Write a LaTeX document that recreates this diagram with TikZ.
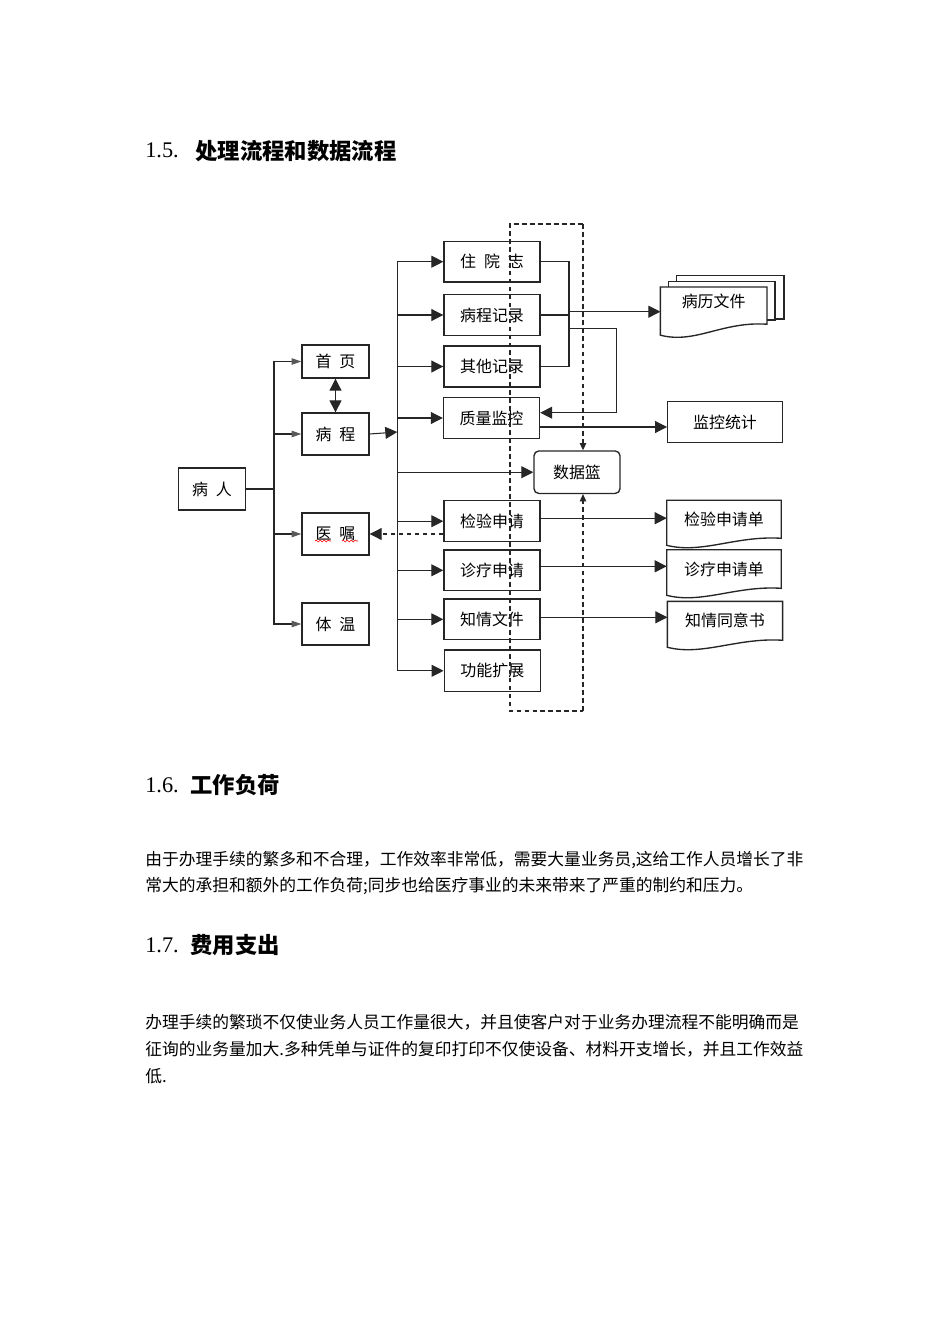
\documentclass[tikz,border=0pt]{standalone}
\usepackage{fontspec}
\setmainfont{Liberation Serif}
\newfontfamily\cjk{Noto Sans CJK SC}
\XeTeXlinebreaklocale "zh"
\XeTeXlinebreakskip=0pt plus 0.2em
\usetikzlibrary{arrows.meta,calc,decorations.pathmorphing}
\newcommand{\cgap}{\hspace{0.5em}}
% document shape with a wavy bottom
\newcommand{\docwave}[2]{\draw[docline] (#1.north west) -- (#1.north east) -- (#1.south east) .. controls ($(#1.south east)+(-45,-3)$) and ($(#1.south west)+(35,#2+9)$) .. ($(#1.south west)+(0,#2)$) -- cycle;}

\begin{document}
\begin{tikzpicture}[x=0.6266pt,y=0.6266pt,yscale=-1,xscale=1,
  cbox/.style={draw=black!85,line width=0.85pt,inner sep=0pt,font=\cjk\fontsize{10pt}{12pt}\selectfont},
  lbox/.style={cbox,minimum width=42pt,minimum height=26.3pt},
  rbox/.style={cbox,minimum width=60.2pt,minimum height=25.3pt},
  docbox/.style={inner sep=0pt,minimum width=71.4pt,minimum height=23.6pt,font=\cjk\fontsize{10pt}{12pt}\selectfont},
  docline/.style={draw=black!85,line width=0.85pt},
  link/.style={draw=black!85,line width=0.65pt},
  tip/.style={link,-{Triangle[length=7.5pt,width=7.5pt]}},
  graytip/.style={link,-{Triangle[length=6pt,width=4pt,color=black!65]}},
  smalltip/.style={-{Triangle[length=4.5pt,width=4pt]}},
  dashlink/.style={link,dash pattern=on 3pt off 2pt},
  heading/.style={anchor=west,inner sep=0pt,font=\fontsize{14pt}{16pt}\selectfont},
  cjkhead/.style={heading,font=\cjk\bfseries\fontsize{14pt}{16pt}\selectfont},
  bodyline/.style={anchor=west,inner sep=0pt,font=\cjk\fontsize{10.5pt}{12pt}\selectfont}]
\useasboundingbox (0,0) rectangle (950,1344);

% Text Node
\node[heading] (h15) at (145,150.7) {1.5.};
\node[cjkhead] (h15t) at (195,150.7) {处理流程和数据流程};

%Shape: left column
\node[lbox] (bingren) at (212,489) {病\cgap 人};
\node[lbox,minimum height=20.7pt] (shouye) at (335.5,361.5) {首\cgap 页};
\node[lbox] (bingcheng) at (335.5,434) {病\cgap 程};
\node[lbox] (yizhu) at (335.5,534) {医\cgap 嘱};
\node[lbox] (tiwen) at (335.5,624) {体\cgap 温};

%Shape: middle column
\node[rbox] (zhuyuan) at (492,261.7) {住\cgap 院\cgap 志};
\node[rbox] (bclog) at (492,315) {病程记录};
\node[rbox,minimum height=25.7pt] (qita) at (492,366.5) {其他记录};
\node[rbox] (zhiliang) at (491.5,418) {质量监控};
\node[cbox,rounded corners=3pt,minimum width=53.9pt,minimum height=26.6pt] (shujulan) at (577,472.2) {数据篮};
\node[rbox,minimum height=25.7pt] (jianyan) at (492,521.2) {检验申请};
\node[rbox] (zhenliao) at (492,570.3) {诊疗申请};
\node[rbox] (zhiqing) at (492,619.3) {知情文件};
\node[rbox,minimum height=26.1pt] (gongneng) at (492.3,670.8) {功能扩展};

%Shape: right column
\node[cbox,minimum width=71.8pt,minimum height=25.7pt] (jiankong) at (725,422.2) {监控统计};
\draw[docline] (676.7,281.7) -- (676.7,275.7) -- (784,275.7) -- (784,319) -- (775,319);
\draw[docline] (668.3,287.3) -- (668.3,281.7) -- (775,281.7) -- (775,320) -- (766.7,320);
\node[docbox,minimum width=66.4pt,minimum height=22.9pt,text depth=6pt] (blwj) at (713.7,305.6) {病历文件};
\docwave{blwj}{11}
\node[docbox,minimum height=23.4pt] (jydan) at (724,519.3) {检验申请单};
\docwave{jydan}{7}
\node[docbox,minimum height=23.8pt] (zldan) at (724,569) {诊疗申请单};
\docwave{zldan}{7}
\node[docbox,minimum width=71.8pt,minimum height=24pt] (zqs) at (725,620.8) {知情同意书};
\docwave{zqs}{7}

% bus points
\coordinate (busL) at (274,489);
\coordinate (busR) at (397.3,432);
\coordinate (hub) at (569,318);
\coordinate (hubA) at (569,311.7);
\coordinate (hubB) at (569,328.3);
\coordinate (loopR) at (616.7,412.7);
\coordinate (fTL) at (510,224);
\coordinate (fTR) at (583,224);
\coordinate (fBL) at (510,711);
\coordinate (fBR) at (583,711);

%Straight Lines: patient to left column
\draw[link] (bingren.east) -- (busL);
\draw[graytip] (busL) |- (shouye.west);
\draw[graytip] (busL) |- (bingcheng.west);
\draw[graytip] (busL) |- (yizhu.west);
\draw[graytip] (busL) |- (tiwen.west);
\draw[link,{Triangle[length=7.5pt,width=7.5pt]}-{Triangle[length=7.5pt,width=7.5pt]}] (shouye.south) -- (bingcheng.north);

%Straight Lines: right bus
\draw[tip] (bingcheng.east) -- (busR);
\draw[link] (busR |- zhuyuan.west) -- (busR |- gongneng.west);
\draw[tip] (busR |- zhuyuan.west) -- (zhuyuan.west);
\draw[tip] (busR |- bclog.west) -- (bclog.west);
\draw[tip] (busR |- qita.west) -- (qita.west);
\draw[tip] (busR |- zhiliang.west) -- (zhiliang.west);
\draw[tip] (busR |- shujulan.west) -- (shujulan.west);
\draw[tip] (busR |- jianyan.west) -- (jianyan.west);
\draw[tip] (busR |- zhenliao.west) -- (zhenliao.west);
\draw[tip] (busR |- zhiqing.west) -- (zhiqing.west);
\draw[tip] (busR |- gongneng.west) -- (gongneng.west);

%Straight Lines: records to files
\draw[link] (zhuyuan.east) -| (hub |- qita.east) -- (qita.east);
\draw[link] (bclog.east) -- (bclog.east -| hub);
\draw[tip] (hubA) -- (hubA -| blwj.west);
\draw[tip] (hubB) -| (loopR) -- (loopR -| zhiliang.east);
\draw[tip] ($(zhiliang.east)+(0,9)$) coordinate (zq) -- (zq -| jiankong.west);
\draw[tip] ($(jianyan.east)+(0,-3)$) coordinate (jy) -- (jy -| jydan.west);
\draw[tip] ($(zhenliao.east)+(0,-4)$) coordinate (zl) -- (zl -| zldan.west);
\draw[tip] ($(zhiqing.east)+(0,-2)$) coordinate (zx) -- (zx -| zqs.west);
\draw[dashlink,tip] (jianyan.west |- yizhu.east) -- (yizhu.east);

%Shape: data frame
\draw[dashlink] (fTR) -- (fTL) -- (fBL) -- (fBR);
\draw[dashlink,smalltip] (fTR) -- (fTR |- shujulan.north);
\draw[dashlink,smalltip] (fBR) -- (fBR |- shujulan.south);

% spell marks
\draw[red,line width=0.4pt,decorate,decoration={snake,amplitude=0.6pt,segment length=2.5pt}] (315,541) -- (331,541);
\draw[red,line width=0.4pt,decorate,decoration={snake,amplitude=0.6pt,segment length=2.5pt}] (342,541) -- (358,541);

% Text Node
\node[heading] (h16) at (145,785) {1.6.};
\node[cjkhead] (h16t) at (190,785) {工作负荷};
\node[bodyline] (p1a) at (145,860) {\makebox[412pt][s]{由于办理手续的繁多和不合理，工作效率非常低，需要大量业务员,这给工作人员增长了非}};
\node[bodyline] (p1b) at (145,886) {常大的承担和额外的工作负荷;同步也给医疗事业的未来带来了严重的制约和压力。};

% Text Node
\node[heading] (h17) at (145,945) {1.7.};
\node[cjkhead] (h17t) at (190,945) {费用支出};
\node[bodyline] (p2a) at (145,1022) {\makebox[414pt][s]{办理手续的繁琐不仅使业务人员工作量很大，并且使客户对于业务办理流程不能明确而是}};
\node[bodyline] (p2b) at (145,1049) {\makebox[414pt][s]{征询的业务量加大.多种凭单与证件的复印打印不仅使设备、材料开支增长，并且工作效益}};
\node[bodyline] (p2c) at (145,1076) {低.};
\end{tikzpicture}
\end{document}
